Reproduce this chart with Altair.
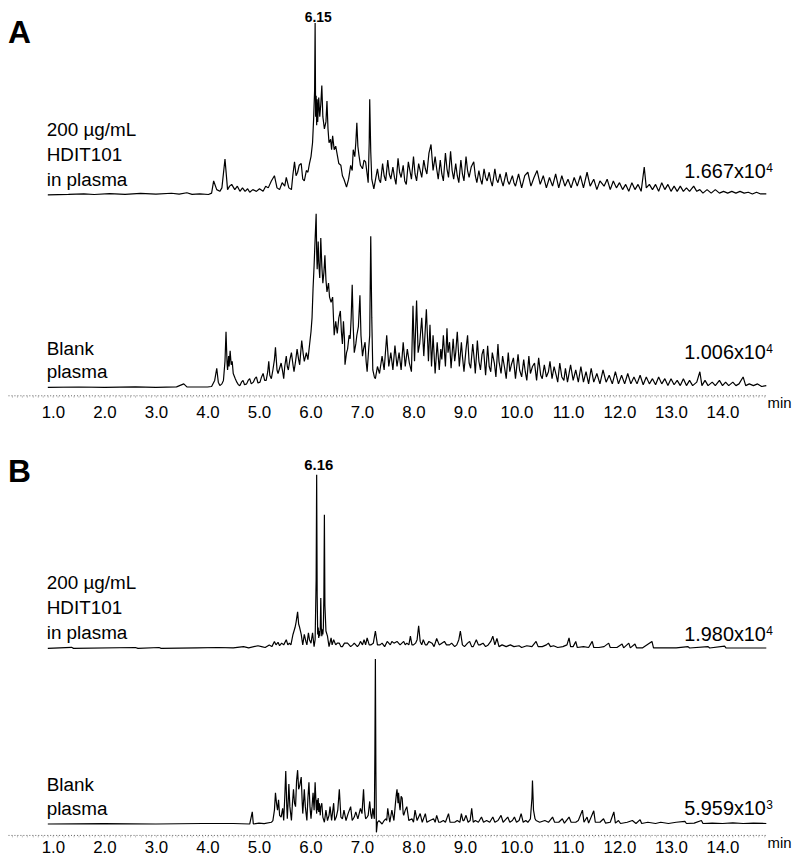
import altair as alt
import pandas as pd

FONT = "Liberation Sans"
PX = 1.75          # 100 relative units = 175 px of trace height
W, H = 764, 387    # plot area of each panel
XDOM = [0.127, 14.848]

# ---------------- data (time in min, relative intensity, 100 = full scale) ----------------
A_SAMPLE = [
    (0.90, 0), (1.30, 0.3), (1.60, 0.6), (1.80, 0.2), (2.10, 0.7), (2.40, 0.3), (2.70, 0.8), (3.00, 0.4),
    (3.30, 0.9), (3.45, 0.4), (3.60, 1.2), (3.70, 0.3), (3.85, 0.5), (4.02, 0.2),
    (4.08, 1), (4.12, 8), (4.18, 3), (4.24, 2), (4.28, 4), (4.34, 20.6), (4.39, 3), (4.43, 5), (4.47, 6),
    (4.53, 3), (4.58, 5), (4.63, 2), (4.68, 4), (4.73, 2), (4.78, 3.5), (4.82, 1.5), (4.88, 3), (4.95, 2),
    (5.01, 3.5), (5.08, 2), (5.13, 5), (5.18, 4), (5.24, 8), (5.30, 11), (5.35, 4), (5.40, 3), (5.45, 7),
    (5.50, 5), (5.53, 10), (5.58, 4), (5.63, 3), (5.66, 12), (5.69, 19), (5.72, 11), (5.75, 13), (5.78, 17),
    (5.82, 18), (5.85, 9), (5.88, 8), (5.92, 14), (5.95, 13), (5.98, 18), (6.01, 22), (6.04, 30), (6.06, 43),
    (6.08, 60), (6.09, 99), (6.10, 45), (6.11, 57), (6.12, 40), (6.13, 55), (6.14, 42), (6.16, 56), (6.18, 45),
    (6.20, 52), (6.22, 63), (6.24, 45), (6.27, 38), (6.30, 42), (6.32, 54), (6.34, 38), (6.36, 30), (6.39, 32),
    (6.41, 26), (6.43, 34), (6.46, 26), (6.49, 28), (6.52, 23), (6.55, 18), (6.59, 17), (6.62, 11), (6.65, 9),
    (6.70, 4.4), (6.74, 9), (6.78, 17), (6.81, 14), (6.83, 26), (6.86, 22), (6.88, 30), (6.90, 41.5), (6.92, 28),
    (6.94, 23), (6.97, 17), (7.01, 15), (7.04, 20), (7.07, 19), (7.10, 12), (7.12, 7), (7.14, 30), (7.15, 55),
    (7.17, 25), (7.19, 9), (7.23, 3.4), (7.27, 10),
    (7.30, 15), (7.33, 9), (7.36, 7), (7.40, 18), (7.43, 11), (7.46, 8), (7.50, 20), (7.53, 12), (7.56, 9),
    (7.60, 16), (7.63, 10), (7.66, 6), (7.70, 21), (7.73, 13), (7.76, 10), (7.80, 17), (7.83, 8), (7.86, 6),
    (7.90, 19), (7.93, 14), (7.96, 9), (8.00, 22), (8.03, 12), (8.06, 8), (8.10, 18), (8.13, 14), (8.16, 10),
    (8.20, 20), (8.23, 15), (8.26, 12), (8.30, 24), (8.34, 29), (8.38, 14), (8.42, 22), (8.45, 15), (8.48, 9),
    (8.52, 20), (8.55, 12), (8.58, 8), (8.62, 24), (8.65, 15), (8.68, 10), (8.72, 25), (8.75, 14), (8.78, 9),
    (8.82, 18), (8.85, 11), (8.88, 7), (8.92, 20), (8.95, 12), (8.98, 8), (9.02, 22), (9.05, 14), (9.08, 10),
    (9.12, 16), (9.17, 19), (9.20, 11), (9.23, 7), (9.27, 14), (9.30, 9), (9.33, 6), (9.37, 15), (9.40, 10),
    (9.43, 8), (9.47, 13), (9.50, 8), (9.53, 5), (9.58, 15), (9.61, 9), (9.64, 7), (9.68, 12), (9.71, 8),
    (9.74, 5), (9.80, 13), (9.83, 8), (9.86, 6), (9.92, 11), (9.95, 7), (9.98, 5),
    (10.04, 12), (10.10, 4), (10.16, 11), (10.22, 13), (10.28, 5), (10.34, 10), (10.40, 14), (10.46, 6),
    (10.52, 11), (10.58, 4), (10.64, 10), (10.70, 5), (10.76, 12), (10.82, 4), (10.88, 11), (10.94, 5),
    (11.00, 9), (11.06, 4), (11.12, 10), (11.18, 5), (11.24, 11), (11.30, 4), (11.37, 13), (11.43, 5),
    (11.50, 9), (11.56, 3), (11.62, 8), (11.70, 5), (11.76, 9), (11.82, 3), (11.88, 8), (11.94, 4), (12.00, 7),
    (12.06, 3), (12.12, 6), (12.18, 2), (12.24, 7), (12.30, 3), (12.36, 6), (12.42, 2), (12.48, 16), (12.52, 4),
    (12.58, 6), (12.64, 3), (12.70, 6), (12.76, 2), (12.82, 7), (12.88, 3), (12.94, 6), (13.00, 2), (13.06, 5),
    (13.12, 2), (13.18, 5), (13.24, 2), (13.30, 4), (13.36, 2), (13.44, 5), (13.50, 2), (13.56, 3), (13.62, 1),
    (13.70, 3), (13.78, 1), (13.86, 3), (13.94, 1), (14.02, 2), (14.10, 1), (14.18, 2), (14.26, 1), (14.34, 2),
    (14.42, 1), (14.50, 1.5), (14.58, 0.5), (14.66, 1.5), (14.74, 0.5), (14.85, 0.5),
]

A_BLANK = [
    (0.90, 0), (1.50, 0.2), (2.00, 0), (2.60, 0.3), (3.00, 0), (3.40, 0.3), (3.54, 2), (3.60, 0.3), (4.00, 0.2),
    (4.08, 0.5), (4.14, 4), (4.18, 11), (4.21, 3), (4.24, 1), (4.28, 2), (4.31, 4), (4.34, 15), (4.36, 32),
    (4.38, 14), (4.39, 10), (4.41, 18), (4.42, 12), (4.44, 21), (4.46, 13), (4.48, 15), (4.50, 8), (4.54, 5),
    (4.57, 3), (4.60, 1.5), (4.63, 1), (4.66, 3), (4.69, 4), (4.72, 1.5), (4.76, 2), (4.79, 4), (4.82, 5),
    (4.85, 2), (4.89, 3), (4.92, 5), (4.95, 6), (4.98, 2.5), (5.02, 3), (5.05, 6), (5.08, 8), (5.11, 4),
    (5.14, 4), (5.17, 9), (5.19, 15), (5.21, 7), (5.24, 5), (5.27, 10), (5.30, 16), (5.32, 23), (5.35, 10),
    (5.37, 8), (5.40, 11), (5.43, 14), (5.46, 9), (5.48, 5), (5.50, 12), (5.53, 18), (5.55, 12), (5.57, 10),
    (5.60, 16), (5.63, 20), (5.66, 13), (5.68, 9), (5.71, 15), (5.74, 22), (5.77, 16), (5.79, 13), (5.81, 20),
    (5.83, 27), (5.86, 19), (5.88, 15), (5.92, 20), (5.95, 16), (5.98, 24), (6.01, 32), (6.03, 40), (6.05, 57),
    (6.07, 70), (6.08, 78), (6.11, 100), (6.12, 78), (6.13, 68), (6.15, 84), (6.16, 72), (6.18, 63), (6.20, 86),
    (6.22, 70), (6.24, 60), (6.26, 66), (6.28, 76), (6.30, 62), (6.32, 55), (6.35, 60), (6.37, 52), (6.40, 49),
    (6.43, 52), (6.46, 30), (6.49, 38), (6.52, 31), (6.55, 40), (6.58, 44), (6.60, 32), (6.62, 25), (6.64, 38),
    (6.66, 28), (6.67, 13), (6.70, 20), (6.72, 22), (6.75, 30), (6.77, 28), (6.79, 40), (6.81, 59), (6.83, 35),
    (6.85, 20), (6.88, 25), (6.90, 30), (6.93, 35), (6.96, 53), (6.98, 30), (7.01, 18), (7.03, 22), (7.06, 26),
    (7.08, 15), (7.10, 9), (7.13, 22), (7.15, 30), (7.17, 87), (7.19, 40), (7.21, 10), (7.24, 6), (7.26, 5),
    (7.30, 12), (7.34, 8), (7.39, 18), (7.43, 10), (7.48, 30), (7.52, 12), (7.56, 20), (7.60, 10), (7.64, 24),
    (7.68, 12), (7.72, 20), (7.76, 10), (7.80, 26), (7.84, 12), (7.88, 22), (7.92, 14), (7.96, 9), (7.99, 47),
    (8.02, 15), (8.06, 50), (8.09, 20), (8.12, 25), (8.16, 40), (8.20, 18), (8.25, 45), (8.29, 15), (8.32, 36),
    (8.35, 12), (8.38, 30), (8.42, 8), (8.46, 26),
    (8.50, 10), (8.53, 22), (8.55, 16), (8.58, 30), (8.62, 12), (8.65, 34), (8.67, 20), (8.70, 26), (8.73, 11),
    (8.77, 28), (8.80, 15), (8.82, 20), (8.85, 32), (8.89, 12), (8.93, 26), (8.95, 18), (8.98, 9), (9.02, 22),
    (9.05, 30), (9.08, 14), (9.11, 11), (9.15, 25), (9.18, 16), (9.20, 8), (9.24, 27), (9.27, 15), (9.30, 10),
    (9.33, 19), (9.36, 22), (9.40, 7), (9.44, 24), (9.47, 12), (9.50, 9), (9.53, 20), (9.57, 14), (9.60, 6),
    (9.64, 25), (9.66, 15), (9.70, 8), (9.73, 18), (9.77, 11), (9.80, 5), (9.84, 20), (9.87, 9), (9.90, 13),
    (9.94, 17), (9.98, 5), (10.03, 19), (10.06, 10), (10.10, 6), (10.14, 16), (10.17, 9), (10.20, 4),
    (10.24, 18), (10.27, 8), (10.31, 12), (10.35, 14), (10.39, 4), (10.43, 17), (10.47, 7), (10.50, 5),
    (10.54, 13), (10.58, 6), (10.62, 9), (10.65, 15), (10.69, 5), (10.73, 12), (10.77, 7), (10.80, 3),
    (10.84, 14), (10.88, 6), (10.92, 4), (10.95, 11), (10.99, 3),
    (11.05, 13), (11.10, 4), (11.15, 10), (11.20, 3), (11.25, 12),
    (11.30, 3), (11.35, 9), (11.40, 2), (11.45, 11), (11.50, 3), (11.56, 8), (11.62, 2), (11.68, 10),
    (11.74, 3), (11.80, 7), (11.86, 2), (11.92, 9), (11.98, 2), (12.04, 7), (12.10, 2), (12.16, 8), (12.22, 2),
    (12.28, 6), (12.34, 2), (12.40, 7), (12.46, 1.5), (12.52, 6), (12.58, 2), (12.64, 5), (12.70, 1.5),
    (12.76, 6), (12.82, 2), (12.88, 5), (12.94, 1), (13.00, 5), (13.06, 1.5), (13.12, 4), (13.18, 1),
    (13.24, 5), (13.30, 1), (13.36, 4), (13.42, 1), (13.50, 3), (13.56, 9), (13.60, 1), (13.66, 4), (13.72, 1),
    (13.80, 3), (13.86, 1), (13.94, 4), (14.00, 1), (14.06, 3), (14.12, 1), (14.20, 3), (14.26, 1), (14.32, 2),
    (14.40, 6), (14.45, 1), (14.52, 2), (14.60, 1), (14.68, 2), (14.76, 0.5), (14.85, 1),
]

B_SAMPLE = [
    (0.90, 0), (1.36, 0.6), (1.40, 0), (2.60, 0.5), (2.65, 0), (3.06, 0.5), (3.10, 0), (3.80, 0.3), (4.20, 0.5),
    (4.50, 0.3), (4.70, 1), (4.80, 0.3), (4.98, 1.5), (5.05, 1), (5.12, 0.5), (5.20, 2), (5.25, 1), (5.30, 4),
    (5.33, 2), (5.37, 3.5), (5.40, 1.5), (5.44, 3), (5.48, 2), (5.53, 5), (5.56, 2), (5.59, 3), (5.62, 2),
    (5.66, 8), (5.70, 12), (5.72, 15), (5.75, 21), (5.77, 14), (5.79, 12), (5.82, 8), (5.85, 2), (5.88, 8),
    (5.91, 4), (5.93, 2), (5.96, 9), (5.98, 5), (6.01, 3), (6.04, 9), (6.07, 1), (6.09, 5), (6.11, 40),
    (6.12, 100), (6.13, 30), (6.14, 8), (6.15, 12), (6.16, 6), (6.17, 10), (6.18, 7), (6.19, 12), (6.20, 29),
    (6.21, 12), (6.22, 7), (6.23, 11), (6.24, 8), (6.25, 12), (6.26, 30), (6.27, 77), (6.28, 25), (6.30, 10),
    (6.33, 7), (6.36, 1), (6.40, 6), (6.42, 2), (6.45, 5), (6.49, 2), (6.52, 3), (6.56, 3), (6.59, 1),
    (6.62, 1), (6.66, 3), (6.72, 3), (6.78, 1), (6.82, 2), (6.85, 3), (6.91, 1), (6.94, 2), (6.97, 4),
    (7.01, 2), (7.04, 5), (7.07, 2), (7.10, 6), (7.14, 2), (7.17, 2), (7.22, 3), (7.26, 10), (7.30, 2),
    (7.35, 2), (7.39, 3), (7.44, 1), (7.49, 4), (7.55, 2), (7.58, 4), (7.62, 3), (7.68, 4), (7.74, 2),
    (7.81, 4), (7.84, 2), (7.87, 3), (7.91, 2), (7.94, 7), (7.97, 2), (8.00, 2), (8.04, 3), (8.07, 5),
    (8.10, 13), (8.13, 4), (8.16, 2), (8.19, 5), (8.23, 2), (8.26, 2), (8.30, 4), (8.36, 3), (8.40, 1),
    (8.45, 5.7), (8.50, 2), (8.55, 3), (8.60, 4), (8.64, 2), (8.70, 2), (8.74, 3), (8.80, 1), (8.84, 2),
    (8.88, 5), (8.91, 10), (8.95, 2), (8.99, 1), (9.05, 3), (9.09, 4), (9.13, 1), (9.16, 1), (9.22, 5),
    (9.26, 2), (9.29, 2), (9.35, 3), (9.40, 1), (9.45, 2), (9.50, 4), (9.54, 7), (9.58, 2), (9.62, 5.7),
    (9.66, 1), (9.72, 2), (9.80, 1), (9.88, 2), (9.95, 1), (10.05, 1.5), (10.10, 0.5), (10.20, 1.5),
    (10.30, 1), (10.38, 4), (10.42, 1), (10.50, 1), (10.58, 2), (10.62, 3), (10.66, 1), (10.72, 1.5),
    (10.80, 0.5), (10.90, 1), (10.98, 2), (11.02, 6), (11.05, 1), (11.10, 1), (11.15, 4), (11.18, 0.5),
    (11.30, 1), (11.40, 0.5), (11.47, 4), (11.50, 0.5), (11.60, 0.5), (11.70, 1), (11.79, 3), (11.82, 0.5),
    (11.95, 0.5), (12.05, 2.5), (12.08, 0.3), (12.18, 3), (12.21, 0.3), (12.30, 2.5), (12.33, 0.3),
    (12.45, 0.3), (12.63, 4), (12.66, 0.3), (12.90, 0.3), (13.10, 0.3), (13.33, 1), (13.36, 0.2), (13.72, 1),
    (13.75, 0.2), (14.04, 1.3), (14.07, 0.2), (14.85, 0.2),
]

B_BLANK = [
    (0.90, 0), (2.00, 0.2), (3.00, 0), (3.90, 0.3), (4.50, 0.3), (4.82, 0), (4.87, 7), (4.89, 0), (5.00, 0.5),
    (5.10, 0.2), (5.24, 1), (5.27, 2), (5.30, 8), (5.32, 18), (5.34, 12), (5.36, 8), (5.38, 14), (5.40, 5),
    (5.43, 4), (5.46, 9), (5.48, 2), (5.50, 15), (5.52, 30.5), (5.54, 10), (5.55, 3), (5.57, 15), (5.58, 23),
    (5.60, 10), (5.63, 2), (5.65, 12), (5.67, 20), (5.69, 12), (5.71, 10), (5.73, 25), (5.75, 31), (5.77, 20),
    (5.79, 22), (5.82, 27), (5.84, 12), (5.85, 6), (5.87, 15), (5.88, 20), (5.90, 10), (5.93, 2), (5.95, 15),
    (5.97, 24), (5.99, 10), (6.01, 3), (6.03, 10), (6.05, 18), (6.07, 8), (6.09, 24), (6.11, 10), (6.12, 6),
    (6.13, 14), (6.14, 8), (6.15, 15), (6.16, 7), (6.17, 12), (6.19, 5), (6.20, 10), (6.22, 12), (6.24, 4),
    (6.27, 1), (6.30, 8), (6.33, 2), (6.36, 5), (6.38, 10), (6.41, 2), (6.45, 12), (6.47, 2), (6.50, 4),
    (6.53, 8), (6.56, 20), (6.59, 4), (6.62, 3), (6.65, 8), (6.69, 2), (6.73, 6), (6.78, 10), (6.81, 2),
    (6.85, 4), (6.88, 7), (6.92, 3), (6.97, 9), (7.00, 6), (7.03, 20), (7.05, 8), (7.07, 3), (7.10, 4),
    (7.12, 5), (7.15, 13), (7.17, 6), (7.19, 3), (7.21, 9), (7.24, 3), (7.25, 40), (7.26, 95), (7.27, 30),
    (7.28, -4.8), (7.30, 1), (7.33, 2), (7.39, 0), (7.43, 2), (7.46, 3), (7.48, 2), (7.50, 9), (7.54, 1),
    (7.58, 8), (7.62, 2), (7.65, 12), (7.67, 18), (7.68, 20), (7.70, 12), (7.71, 18), (7.73, 10), (7.74, 8),
    (7.76, 16), (7.78, 15), (7.80, 6), (7.81, 5), (7.84, 8), (7.87, 10), (7.91, 2), (7.97, 3), (8.00, 1),
    (8.03, 8), (8.07, 2), (8.13, 6), (8.17, 1), (8.23, 6), (8.26, 1), (8.32, 2), (8.39, 3), (8.42, 1),
    (8.45, 5), (8.49, 1), (8.52, 1), (8.58, 2), (8.62, 1), (8.68, 6), (8.71, 1), (8.80, 1), (8.85, 2),
    (8.90, 1), (8.93, 6), (8.96, 2), (8.98, 2), (9.02, 5), (9.06, 1), (9.10, 2), (9.13, 9), (9.16, 1),
    (9.20, 2), (9.26, 1), (9.32, 4), (9.36, 1), (9.42, 2), (9.48, 1), (9.54, 4), (9.58, 1), (9.64, 2),
    (9.70, 5), (9.74, 1), (9.83, 4), (9.87, 1), (9.92, 2), (9.96, 4), (10.00, 1), (10.05, 2), (10.09, 6),
    (10.13, 1), (10.18, 2), (10.22, 1), (10.27, 3), (10.30, 15), (10.31, 25), (10.33, 8), (10.36, 3),
    (10.38, 2), (10.45, 1), (10.55, 2), (10.62, 1), (10.70, 4), (10.74, 1), (10.82, 1), (10.89, 3),
    (10.93, 0.5), (11.02, 4), (11.06, 1), (11.15, 1), (11.20, 2), (11.28, 8), (11.31, 1), (11.37, 4),
    (11.40, 0.5), (11.50, 7.6), (11.53, 1), (11.62, 1), (11.69, 3), (11.73, 0.5), (11.82, 1), (11.89, 7),
    (11.92, 0.5), (11.98, 2), (12.02, 0.3), (12.15, 1), (12.25, 2), (12.32, 0.3), (12.40, 2.5), (12.43, 0.3),
    (12.55, 1), (12.70, 0.3), (12.80, 1), (12.95, 0.3), (13.10, 1), (13.27, 1.5), (13.30, 0.3), (13.45, 0.5),
    (13.59, 2), (13.62, 0.3), (13.80, 0.5), (14.00, 0.3), (14.20, 0.6), (14.40, 0.3), (14.60, 0.5), (14.85, 0.3),
]

SAMPLE_LABEL = ["200 µg/mL", "HDIT101", "in plasma"]
BLANK_LABEL = ["Blank", "plasma"]
A_SCALES = [("1.667x10", "4"), ("1.006x10", "4")]
B_SCALES = [("1.980x10", "4"), ("5.959x10", "3")]
A_PEAK = "6.15"
B_PEAK = "6.16"
TICK_VALUES = [round(0.1 * i, 1) for i in range(1, 149)]


def x_enc(label_pad):
    return alt.X(
        "t:Q",
        scale=alt.Scale(domain=XDOM, nice=False, zero=False),
        axis=alt.Axis(
            values=TICK_VALUES, title=None, grid=False,
            labelExpr="abs(datum.value - round(datum.value)) < 0.001 ? format(datum.value, '.1f') : ''",
            labelOverlap=False, labelFlush=False, labelFont=FONT, labelFontSize=17, labelColor="black",
            labelBaseline="alphabetic", labelPadding=label_pad,
            domainColor="#666666", domainDash=[1, 2], domainWidth=1,
            tickColor="#999999", tickSize=2, tickWidth=0.6,
        ),
    )


Y_ENC = alt.Y("y:Q", scale=alt.Scale(domain=[0, H], nice=False, zero=False), axis=None)


def trace(data, base, xe):
    df = pd.DataFrame(data, columns=["t", "v"])
    return (
        alt.Chart(df)
        .transform_calculate(y=f"{base} + datum.v * {PX}")
        .mark_line(color="black", strokeWidth=1.2, strokeJoin="bevel")
        .encode(x=xe, y=Y_ENC)
    )


def text(s, x, y, size, weight="normal", align="left"):
    return (
        alt.Chart(pd.DataFrame({"s": [s]}))
        .mark_text(align=align, baseline="alphabetic", font=FONT, fontSize=size,
                   fontWeight=weight, color="black")
        .encode(x=alt.value(x), y=alt.value(y), text="s:N")
    )


def peak_label(s, xe, y, size):
    return (
        alt.Chart(pd.DataFrame({"t": [float(s)], "s": [s]}))
        .mark_text(align="center", baseline="alphabetic", font=FONT, fontSize=size,
                   fontWeight="bold", color="black")
        .encode(x=xe, y=alt.value(y), text="s:N")
    )


def scale_label(pair, y):
    main, sup = pair
    return [text(main, 763.7, y, 20, align="right"), text(sup, 764, y - 6, 12)]


def panel(letter, sample, blank, base_s, base_b, peak, peak_y, peak_size, scales,
          s_lab_y, b_lab_y, sc_y, letter_y, label_pad):
    xe = x_enc(label_pad)
    layers = [trace(sample, base_s, xe), trace(blank, base_b, xe), peak_label(peak, xe, peak_y, peak_size),
              text(letter, 0, letter_y, 32, weight="bold"), text("min", 765.3, 400, 15)]
    for s, yy in zip(SAMPLE_LABEL, s_lab_y):
        layers.append(text(s, 39, yy, 19))
    for s, yy in zip(BLANK_LABEL, b_lab_y):
        layers.append(text(s, 39, yy, 19))
    layers += scale_label(scales[0], sc_y[0])
    layers += scale_label(scales[1], sc_y[1])
    return alt.layer(*layers).properties(width=W, height=H)


pA = panel("A", A_SAMPLE, A_BLANK, 202, 8, A_PEAK, 11.3, 14, A_SCALES,
           [126, 151, 176], [346, 370], [167.7, 350], 32, 20)
pB = panel("B", B_SAMPLE, B_BLANK, 188, 11, B_PEAK, 19.3, 15, B_SCALES,
           [138.7, 164, 189.3], [343, 367], [191.3, 367], 31.5, 16)

chart = (
    alt.vconcat(pA, pB, spacing=31)
    .properties(padding={"left": 0, "top": 0, "right": 0, "bottom": 0})
    .configure_view(stroke=None)
)

chart.save("out.html", embed_options={"renderer": "svg", "actions": False})
